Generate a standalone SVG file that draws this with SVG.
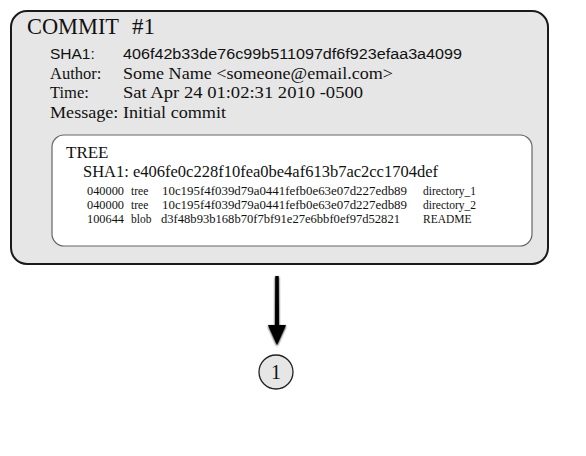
<svg xmlns="http://www.w3.org/2000/svg" width="586" height="456" viewBox="0 0 586 456">
<style>
.serif{font-family:"Liberation Serif","DejaVu Serif",serif;fill:#111}
.sans{font-family:"Liberation Sans","DejaVu Sans",sans-serif;fill:#111}
.f17{font-size:16.5px}
.row{font-size:11.5px}
</style>
<defs>
<filter id="sh" x="-50%" y="-20%" width="200%" height="150%">
<feGaussianBlur in="SourceAlpha" stdDeviation="1.2" result="b"/>
<feOffset dy="1" result="o"/>
<feMerge><feMergeNode in="o"/><feMergeNode in="SourceGraphic"/></feMerge>
</filter>
</defs>
<rect width="586" height="456" fill="#fff"/>
<g id="commit">
<rect x="11" y="11" width="537" height="253" rx="16" fill="#e6e6e6" stroke="#1a1a1a" stroke-width="2"/>
<text class="serif" x="27" y="34" font-size="23"><tspan textLength="92" lengthAdjust="spacingAndGlyphs">COMMIT</tspan><tspan x="132">#1</tspan></text>
<text class="sans" x="50" y="59" font-size="15.5">SHA1:</text>
<text class="sans" x="123" y="59" font-size="15.5" textLength="339" lengthAdjust="spacingAndGlyphs">406f42b33de76c99b511097df6f923efaa3a4099</text>
<text class="serif f17" x="50" y="79">Author:</text>
<text class="serif f17" x="123" y="79" textLength="270" lengthAdjust="spacingAndGlyphs">Some Name &lt;someone@email.com&gt;</text>
<text class="serif f17" x="50" y="98">Time:</text>
<text class="serif f17" x="123" y="98" textLength="240" lengthAdjust="spacingAndGlyphs">Sat Apr 24 01:02:31 2010 -0500</text>
<text class="serif f17" x="50" y="118" textLength="176" lengthAdjust="spacingAndGlyphs">Message: Initial commit</text>
</g>
<g id="tree">
<rect x="52" y="135" width="480" height="111" rx="12" fill="#fff" stroke="#666" stroke-width="1.2"/>
<text class="serif" x="66" y="158" font-size="17">TREE</text>
<text class="serif" x="83" y="177" font-size="16" textLength="355" lengthAdjust="spacingAndGlyphs">SHA1: e406fe0c228f10fea0be4af613b7ac2cc1704def</text>
<g class="serif row">
<text x="87" y="195" textLength="37" lengthAdjust="spacingAndGlyphs">040000</text><text x="131" y="195">tree</text>
<text x="162" y="195" textLength="245" lengthAdjust="spacingAndGlyphs">10c195f4f039d79a0441fefb0e63e07d227edb89</text>
<text x="423" y="195">directory_1</text>
<text x="87" y="209" textLength="37" lengthAdjust="spacingAndGlyphs">040000</text><text x="131" y="209">tree</text>
<text x="162" y="209" textLength="245" lengthAdjust="spacingAndGlyphs">10c195f4f039d79a0441fefb0e63e07d227edb89</text>
<text x="423" y="209">directory_2</text>
<text x="87" y="223" textLength="37" lengthAdjust="spacingAndGlyphs">100644</text><text x="131" y="223">blob</text>
<text x="161" y="223" textLength="239" lengthAdjust="spacingAndGlyphs">d3f48b93b168b70f7bf91e27e6bbf0ef97d52821</text>
<text x="423" y="223">README</text>
</g>
</g>
<g id="connectors">
<path d="M275.3,276 L278.7,276 L279,325 L286,325 L277,345 L268,325 L275,325 Z" fill="#000" filter="url(#sh)"/>
</g>
<g id="node-1">
<circle cx="276" cy="372" r="17" fill="#e6e6e6" stroke="#222" stroke-width="1.3"/>
<text class="serif" x="276" y="379" font-size="20" text-anchor="middle">1</text>
</g>
</svg>
